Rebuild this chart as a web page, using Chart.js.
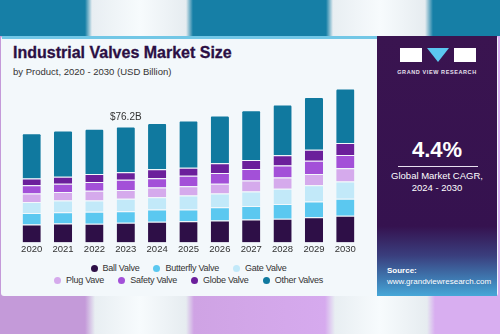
<!DOCTYPE html>
<html>
<head>
<meta charset="utf-8">
<script src="https://cdn.jsdelivr.net/npm/chart.js@4"></script>
<style>
  html, body { margin: 0; padding: 0; }
  body { width: 500px; height: 334px; position: relative; overflow: hidden; font-family: "Liberation Sans", Arial, sans-serif;
    background: linear-gradient(90deg, #c49ad9 0, #c49ad9 85px, #e8eef2 95px, #f7fbfd 140px, #e6ecf0 186px, #cfa3e4 194px, #d6aaee 325px, #e8eef2 335px, #f7fbfd 380px, #e6ecf0 427px, #d8aef0 435px, #d8aef0 500px); }
  .topband { position: absolute; left: 0; top: 0; width: 500px; height: 36px;
    background: linear-gradient(90deg, #167fa6 0, #167fa6 85px, #e8eef2 92px, #f7fbfd 140px, #e6ecf0 186px, #167fa6 193px, #167fa6 326px, #e8eef2 333px, #f7fbfd 380px, #e6ecf0 425px, #167fa6 433px, #167fa6 500px); }
  .card { position: absolute; left: 1px; top: 36px; width: 497px; height: 260px; background: #f3f8fb; border-radius: 3px; }
  .topline { position: absolute; left: 2px; top: 36px; width: 376px; height: 3px; background: #72c7e6; }
  .title { position: absolute; left: 13px; top: 44px; font-size: 16px; font-weight: bold; color: #2b0f44; letter-spacing: 0px; -webkit-text-stroke: 0.3px #2b0f44; }
  .subtitle { position: absolute; left: 13px; top: 66px; font-size: 9.5px; color: #333; }
  #wrap { position: absolute; left: 0; top: 75px; width: 377px; height: 181px; }
  .legend { position: absolute; left: 0; width: 377px; text-align: center; font-size: 9px; letter-spacing: -0.25px; color: #333; white-space: nowrap; }
  .legend span.item { display: inline-block; margin: 0 7px; }
  .legend span.dot { display: inline-block; width: 7px; height: 7px; border-radius: 50%; margin-right: 5px; vertical-align: -0.5px; }
  .side { position: absolute; left: 377px; top: 36px; width: 120px; height: 260px;
    background: linear-gradient(180deg, #3a1450 0, #35124f 190px, #3a3f7e 220px, #3f7fb6 245px, #46a7d8 260px); color: #fff; text-align: center; }
  .logo { position: absolute; left: 23px; top: 12px; width: 76px; height: 14px; }
  .logo .b1 { position: absolute; left: 0; top: 0; width: 22px; height: 14px; background: #fff; }
  .logo .tri { position: absolute; left: 27px; top: 0; width: 0; height: 0; border-left: 11px solid transparent; border-right: 11px solid transparent; border-top: 14px solid #5bc8f0; }
  .logo .b2 { position: absolute; left: 54px; top: 0; width: 22px; height: 14px; background: #fff; }
  .gvr { position: absolute; left: 0; width: 120px; top: 33px; font-size: 5.5px; font-weight: bold; letter-spacing: 0.6px; color: #e6e0ee; }
  .pct { position: absolute; left: 0; width: 120px; top: 101px; font-size: 22px; font-weight: bold; }
  .rule { position: absolute; left: 21px; width: 80px; top: 130px; height: 1px; background: #e8e0f0; }
  .cagr { position: absolute; left: 0; width: 120px; top: 134px; font-size: 9.5px; line-height: 12px; }
  .src { position: absolute; left: 10px; top: 229px; font-size: 8px; line-height: 11px; text-align: left; }
</style>
</head>
<body>
<div class="topband"></div>
<div class="card"></div>
<div class="topline"></div>
<div class="title">Industrial Valves Market Size</div>
<div class="subtitle">by Product, 2020 - 2030 (USD Billion)</div>
<div id="wrap"><canvas id="chart"></canvas></div>
<div class="legend" id="legend1" style="top:263px"></div>
<div class="legend" id="legend2" style="top:275px"></div>
<div class="side">
  <div class="logo"><div class="b1"></div><div class="tri"></div><div class="b2"></div></div>
  <div class="gvr">GRAND VIEW RESEARCH</div>
  <div class="pct">4.4%</div>
  <div class="rule"></div>
  <div class="cagr">Global Market CAGR,<br>2024 - 2030</div>
  <div class="src"><b>Source:</b><br>www.grandviewresearch.com</div>
</div>
<script>
const years = ['2020', '2021', '2022', '2023', '2024', '2025', '2026', '2027', '2028', '2029', '2030'];
const ballValve      = [11.9, 12.5, 12.4, 13.0, 13.7, 14.0, 14.5, 15.1, 15.6, 16.6, 17.7];
const butterflyValve = [7.6, 7.4, 7.8, 7.5, 8.0, 7.8, 8.7, 8.9, 9.8, 10.4, 11.1];
const gateValve      = [7.1, 7.8, 7.5, 8.3, 8.0, 9.1, 9.1, 9.5, 10.0, 10.7, 11.3];
const plugValve      = [5.6, 5.5, 6.3, 5.8, 6.5, 6.1, 6.3, 7.2, 7.4, 7.4, 8.7];
const safetyValve    = [5.4, 5.4, 5.7, 6.7, 6.1, 6.9, 7.0, 7.6, 7.8, 8.7, 8.7];
const globeValve     = [4.5, 4.7, 5.4, 4.8, 5.9, 5.2, 6.5, 5.9, 6.8, 7.2, 7.8];
const otherValves    = [29.6, 30.2, 29.7, 30.1, 30.3, 31.0, 31.4, 32.7, 33.2, 34.5, 35.9];
const seriesNames  = ['Ball Valve', 'Butterfly Valve', 'Gate Valve', 'Plug Vave', 'Safety Valve', 'Globe Valve', 'Other Valves'];
const seriesColors = ['#2e0f47', '#5bc8f0', '#c2e9f9', '#d5aaec', '#a350d8', '#6b1f9b', '#10799f'];
const calloutYear = '2023';
const calloutText = '$76.2B';

const allSeries = [ballValve, butterflyValve, gateValve, plugValve, safetyValve, globeValve, otherValves];

const datasets = allSeries.map((values, i) => ({
  label: seriesNames[i],
  data: values,
  backgroundColor: seriesColors[i],
  borderColor: '#f3f8fb',
  borderWidth: { top: 1, bottom: 0, left: 0, right: 0 },
  borderSkipped: false,
  borderRadius: i === allSeries.length - 1 ? { topLeft: 2, topRight: 2 } : 0,
  barPercentage: 0.58,
  categoryPercentage: 1.0
}));

// label above one bar
const calloutPlugin = {
  id: 'callout',
  afterDatasetsDraw(chart) {
    const idx = years.indexOf(calloutYear);
    const last = chart.getDatasetMeta(chart.data.datasets.length - 1).data[idx];
    const ctx = chart.ctx;
    ctx.save();
    ctx.font = '10px "Liberation Sans", Arial, sans-serif';
    ctx.fillStyle = '#333';
    ctx.textAlign = 'center';
    ctx.textBaseline = 'bottom';
    ctx.fillText(calloutText, last.x, last.y - 4);
    ctx.restore();
  }
};

new Chart(document.getElementById('chart'), {
  type: 'bar',
  data: { labels: years, datasets: datasets },
  options: {
    responsive: true,
    maintainAspectRatio: false,
    animation: false,
    layout: { padding: { left: 16, right: 16, top: 0, bottom: 0 } },
    plugins: { legend: { display: false }, tooltip: { enabled: false } },
    scales: {
      x: {
        stacked: true,
        grid: { display: false, drawTicks: false },
        border: { display: false },
        ticks: { color: '#333', font: { size: 9.5, family: '"Liberation Sans", Arial, sans-serif' }, padding: 1 }
      },
      y: {
        stacked: true,
        display: false,
        min: 0,
        max: 110
      }
    }
  },
  plugins: [calloutPlugin]
});

// legend rows
function legendRow(el, from, to) {
  el.innerHTML = seriesNames.slice(from, to).map((name, k) =>
    `<span class="item"><span class="dot" style="background:${seriesColors[from + k]}"></span>${name}</span>`).join('');
}
legendRow(document.getElementById('legend1'), 0, 3);
legendRow(document.getElementById('legend2'), 3, 7);
</script>
</body>
</html>
